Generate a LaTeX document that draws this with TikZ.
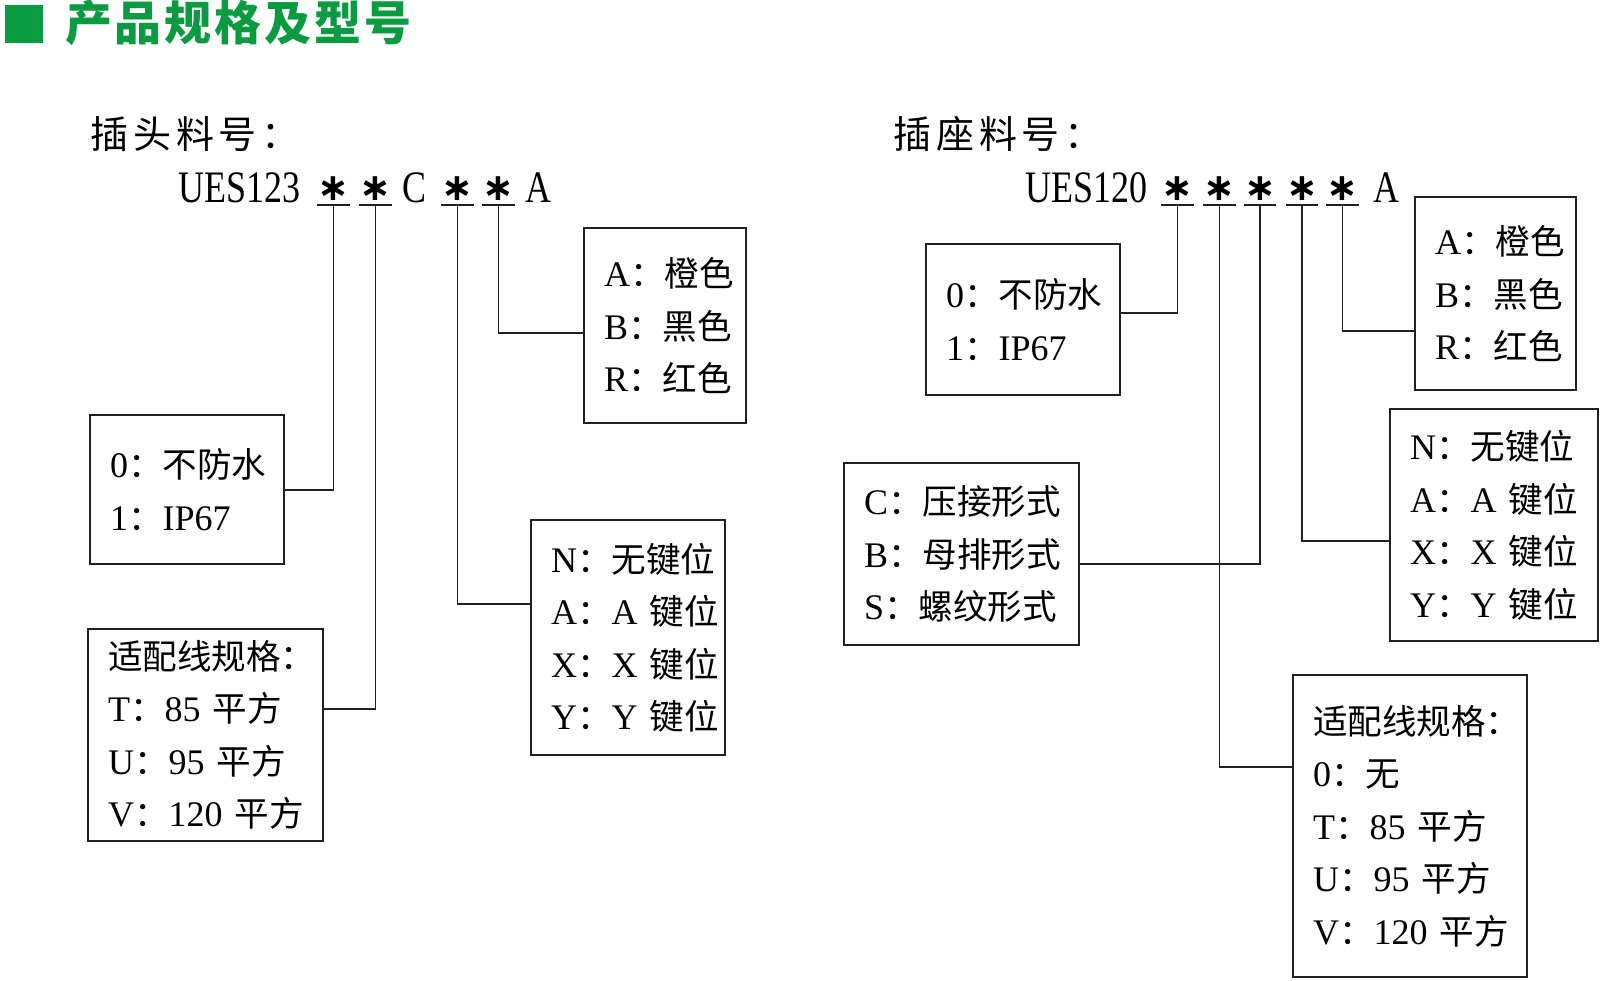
\documentclass[tikz,border=0pt]{standalone}
\usepackage{fontspec}
\setmainfont{Liberation Serif}
\newfontfamily\cjkfont[Scale=0.96]{Noto Sans CJK SC}
\newfontfamily\cjkwide[LetterSpace=13]{Noto Sans CJK SC}
\newfontfamily\titlefont[LetterSpace=6]{Noto Sans CJK SC}
\newfontfamily\headfont[FakeStretch=0.8]{Liberation Serif}
\newfontfamily\starfont{DejaVu Sans}
\newcommand\zh[1]{{\cjkfont #1}}
\newcommand\boxfont{\fontsize{36}{52.5}\selectfont}
\definecolor{titleGreen}{HTML}{0A9A3F}
\definecolor{diagramLine}{HTML}{231F20}

\begin{document}
\begin{tikzpicture}[
    x=1pt,y=-1pt,
    box/.style={draw=diagramLine,line width=2.2pt,anchor=north west,inner xsep=20pt,inner ysep=0pt,align=left,font=\boxfont},
    link/.style={draw=diagramLine,line width=1.8pt},
    starmark/.style={minimum width=29pt,inner sep=0pt,text height=27.5pt,text depth=4.5pt,font=\starfont\bfseries\fontsize{38}{38}\selectfont},
    code/.style={anchor=base,inner sep=0pt,font=\headfont\fontsize{45}{45}\selectfont},
    partlabel/.style={anchor=west,inner sep=0pt,font=\cjkwide\fontsize{38}{38}\selectfont}
]
\useasboundingbox (0,0) rectangle (1603,981);
\node[anchor=north west,fill=titleGreen,minimum size=38pt,inner sep=0pt] (mark) at (5,5) {};
\node[anchor=west,inner sep=0pt,text=titleGreen,font=\titlefont\bfseries\fontsize{47}{47}\selectfont] (title) at (65,23) {产品规格及型号};

\node[partlabel] (plugLabel) at (90,134) {插头料号：};
\node[code,anchor=base west] (plugCode) at (178,203) {UES123};
\node[starmark] (ps1) at (333.5,189) {∗};
\node[starmark] (ps2) at (375.5,189) {∗};
\node[code] (plugC) at (415,203) {C};
\node[starmark] (ps3) at (457.5,189) {∗};
\node[starmark] (ps4) at (498.5,189) {∗};
\node[code] (plugA) at (538,203) {A};

\node[box,text width=154pt,minimum height=149pt] (plugWp) at (89,414) {0\zh{：不防水}\\1\zh{：}IP67};
\node[box,text width=195pt,minimum height=212pt] (plugWire) at (87,628) {\zh{适配线规格：}\\T\zh{：}85~\zh{平方}\\U\zh{：}95~\zh{平方}\\V\zh{：}120~\zh{平方}};
\node[box,text width=122pt,minimum height=195pt] (plugColor) at (583,227) {A\zh{：橙色}\\B\zh{：黑色}\\R\zh{：红色}};
\node[box,text width=154pt,minimum height=235pt] (plugKey) at (530,519) {N\zh{：无键位}\\A\zh{：}A~\zh{键位}\\X\zh{：}X~\zh{键位}\\Y\zh{：}Y~\zh{键位}};

\node[partlabel] (sockLabel) at (893,134) {插座料号：};
\node[code,anchor=base west] (sockCode) at (1025,203) {UES120};
\node[starmark] (ss1) at (1177.5,189) {∗};
\node[starmark] (ss2) at (1219.5,189) {∗};
\node[starmark] (ss3) at (1260,189) {∗};
\node[starmark] (ss4) at (1302,189) {∗};
\node[starmark] (ss5) at (1342.5,189) {∗};
\node[code] (sockA) at (1386,203) {A};

\node[box,text width=154pt,minimum height=151pt] (sockWp) at (925,243) {0\zh{：不防水}\\1\zh{：}IP67};
\node[box,text width=195pt,minimum height=182pt] (sockForm) at (843,462) {C\zh{：压接形式}\\B\zh{：母排形式}\\S\zh{：螺纹形式}};
\node[box,text width=194pt,minimum height=302pt] (sockWire) at (1292,674) {\zh{适配线规格：}\\0\zh{：无}\\T\zh{：}85~\zh{平方}\\U\zh{：}95~\zh{平方}\\V\zh{：}120~\zh{平方}};
\node[box,text width=168pt,minimum height=232pt] (sockKey) at (1389,408) {N\zh{：无键位}\\A\zh{：}A~\zh{键位}\\X\zh{：}X~\zh{键位}\\Y\zh{：}Y~\zh{键位}};
\node[box,text width=121pt,minimum height=193pt] (sockColor) at (1414,196) {A\zh{：橙色}\\B\zh{：黑色}\\R\zh{：红色}};

\foreach \s in {ps1,ps2,ps3,ps4,ss1,ss2,ss3,ss4,ss5}
  \draw[link] (\s.south west) -- (\s.south east);
\draw[link] (ps1.south) |- (plugWp.east);
\draw[link] (ps2.south) |- ([yshift=26pt]plugWire.east);
\draw[link] (ps3.south) |- ([yshift=33.5pt]plugKey.west);
\draw[link] (ps4.south) |- ([yshift=-7.5pt]plugColor.west);
\draw[link] (ss1.south) |- ([yshift=6.5pt]sockWp.east);
\draw[link] (ss2.south) |- ([yshift=59pt]sockWire.west);
\draw[link] (ss3.south) |- ([yshift=-10pt]sockForm.east);
\draw[link] (ss4.south) |- ([yshift=-16pt]sockKey.west);
\draw[link] (ss5.south) |- ([yshift=-37.5pt]sockColor.west);
\end{tikzpicture}
\end{document}
